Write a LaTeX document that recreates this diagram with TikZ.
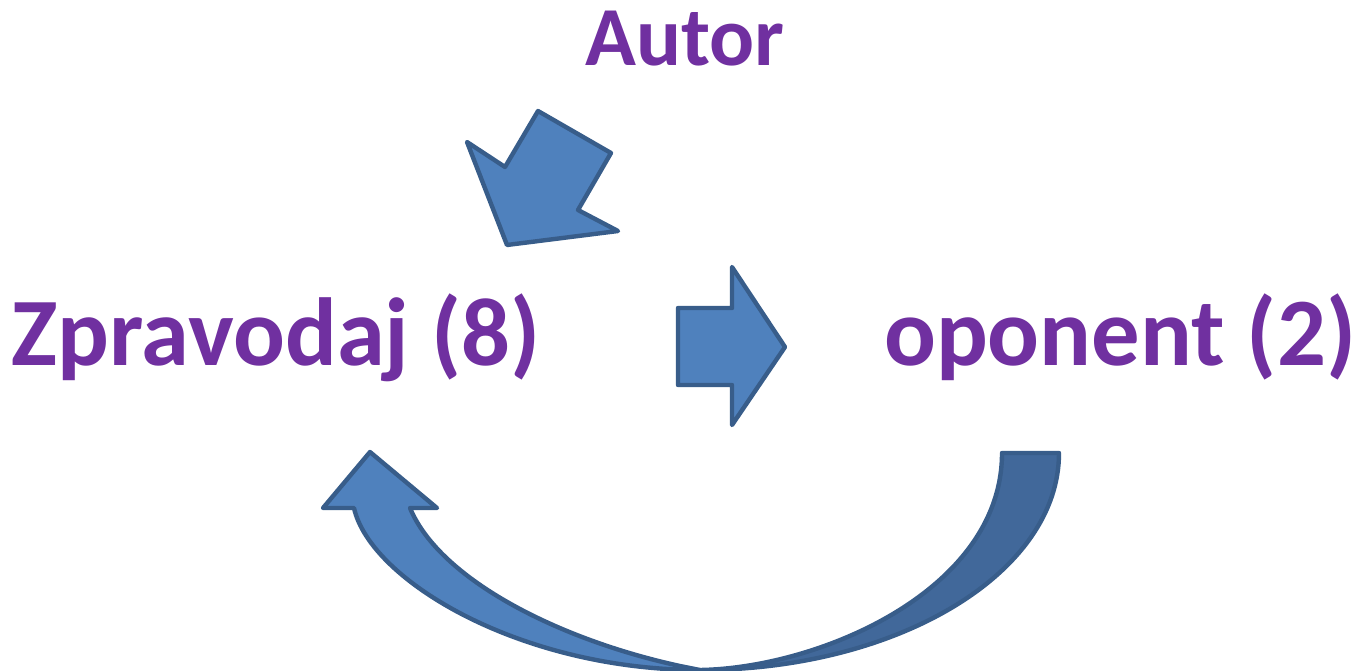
\documentclass[tikz,border=0pt]{standalone}
\usepackage{fontspec}
\setmainfont{Carlito}
\definecolor{txtpurple}{HTML}{7030A0}
\definecolor{arrfill}{HTML}{4F81BD}
\definecolor{arrdark}{HTML}{41689A}
\definecolor{arrline}{HTML}{385D8A}
\begin{document}
\begin{tikzpicture}[x=0.75pt,y=-0.75pt,
  lbl/.style={text=txtpurple,inner sep=0pt,anchor=base},
  blockarrow/.style={fill=arrfill,draw=arrline,line width=3.3pt,line join=round},
  blockdark/.style={fill=arrdark,draw=arrline,line width=3.3pt,line join=round}]
\useasboundingbox (0,0) rectangle (1360,671);
% labels
\node[lbl,font=\fontsize{63}{63}\selectfont\bfseries] (autor) at (685,65) {Autor};
\node[lbl,font=\fontsize{72.5}{72.5}\selectfont\bfseries] (zprav) at (276,365) {Zpravodaj (8)};
\node[lbl,font=\fontsize{72.5}{72.5}\selectfont\bfseries] (opon) at (1120,365) {oponent (2)};
% arrow from Autor
\draw[blockarrow] (538,111) -- (611,153) -- (578,210) -- (618,231) -- (507,245) -- (467,142) -- (505,167) -- cycle;
% arrow right
\draw[blockarrow] (678,308) -- (732,308) -- (732,267) -- (785,347) -- (732,425) -- (732,385) -- (678,385) -- cycle;
% curved arrow: dark back part
\draw[blockdark] (1002,453) -- (1059,453)
  .. controls (1059,573) and (898,670) .. (700,670)
  .. controls (820,668) and (1002,590) .. (1002,453) -- cycle;
% curved arrow: light front part
\draw[blockarrow] (700,670)
  .. controls (520,670) and (370,580) .. (354,508)
  -- (323,508) -- (370,452) -- (437,508) -- (410,508)
  .. controls (440,580) and (560,640) .. (680,666) -- cycle;
\end{tikzpicture}
\end{document}
